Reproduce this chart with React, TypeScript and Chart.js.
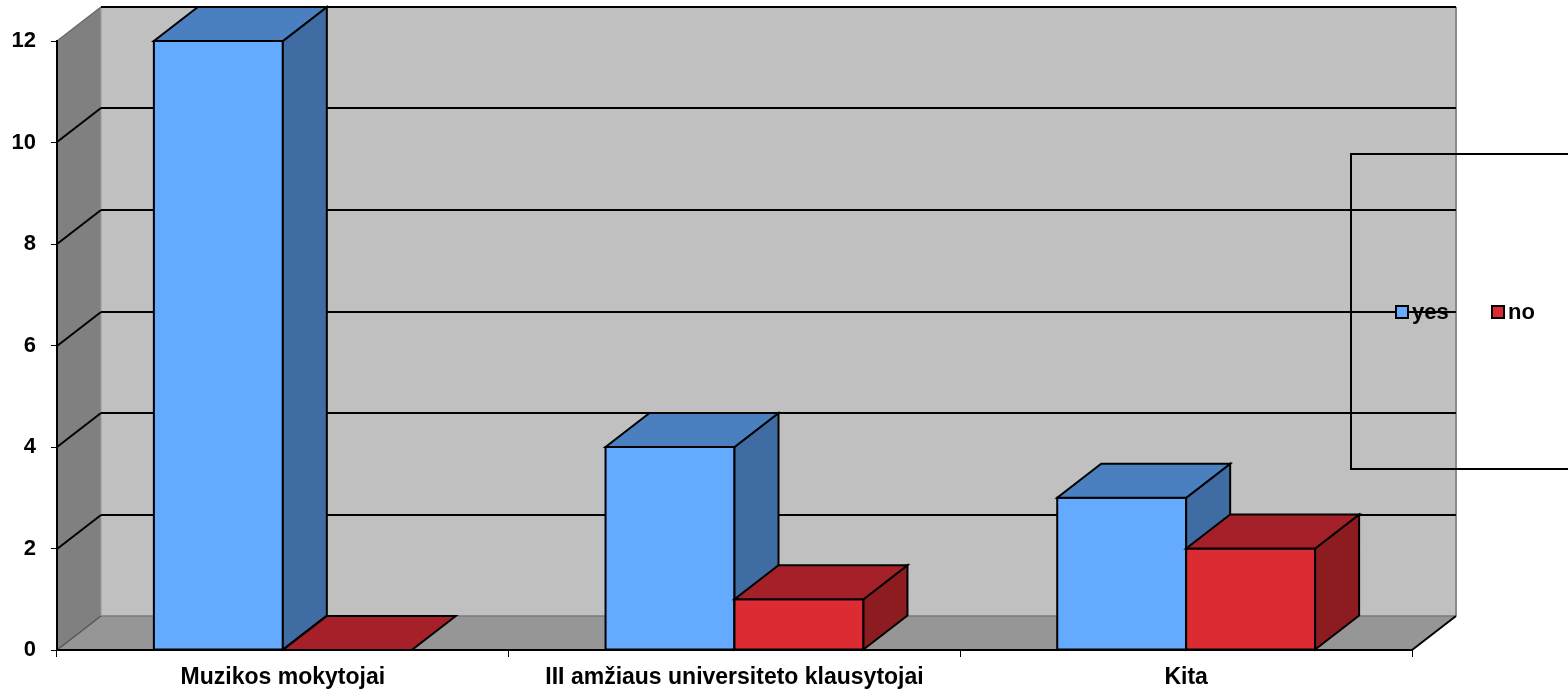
import React, { useEffect, useRef } from "react";
import { Chart, registerables } from "chart.js";

Chart.register(...registerables);

const categories = ["Muzikos mokytojai", "III amžiaus universiteto klausytojai", "Kita"];
const seriesNames = ["yes", "no"];
const yesValues = [12, 4, 3];
const noValues = [0, 1, 2];
const yMin = 0;
const yMax = 12;
const yStep = 2;

const FONT = "'Liberation Sans', Arial, sans-serif";
const DX = 44;
const DY = -34;

const faceColors = [
  { front: "#64AAFF", top: "#4A80C0", side: "#3F6CA3" },
  { front: "#DC2B32", top: "#A52028", side: "#8C1C20" },
];

function poly(ctx: CanvasRenderingContext2D, pts: number[][], fill: string | null, stroke: string | null, lw = 2) {
  ctx.beginPath();
  ctx.moveTo(pts[0][0], pts[0][1]);
  for (let i = 1; i < pts.length; i++) ctx.lineTo(pts[i][0], pts[i][1]);
  ctx.closePath();
  if (fill) {
    ctx.fillStyle = fill;
    ctx.fill();
  }
  if (stroke) {
    ctx.strokeStyle = stroke;
    ctx.lineWidth = lw;
    ctx.lineJoin = "miter";
    ctx.stroke();
  }
}

function line(ctx: CanvasRenderingContext2D, x1: number, y1: number, x2: number, y2: number, color: string, lw = 2) {
  ctx.beginPath();
  ctx.moveTo(x1, y1);
  ctx.lineTo(x2, y2);
  ctx.strokeStyle = color;
  ctx.lineWidth = lw;
  ctx.stroke();
}

const threeD = {
  id: "threeD",
  beforeDraw(chart: any) {
    const ctx = chart.ctx as CanvasRenderingContext2D;
    const { left, right, top, bottom } = chart.chartArea;
    const ys = chart.scales.y;
    ctx.save();
    // side wall
    poly(ctx, [[left, top], [left + DX, top + DY], [left + DX, bottom + DY], [left, bottom]], "#808080", null);
    // back wall
    poly(ctx, [[left + DX, top + DY], [right + DX, top + DY], [right + DX, bottom + DY], [left + DX, bottom + DY]], "#C0C0C0", null);
    // floor
    poly(ctx, [[left, bottom], [right, bottom], [right + DX, bottom + DY], [left + DX, bottom + DY]], "#969696", null);
    // soft edges
    line(ctx, left + DX, bottom + DY, right + DX, bottom + DY, "#7A7A7A", 1.5);
    line(ctx, left, bottom, left + DX, bottom + DY, "#555555", 1.5);
    line(ctx, left + DX, top + DY, left + DX, bottom + DY, "#9A9A9A", 1);
    line(ctx, right + DX, top + DY, right + DX, bottom + DY, "#8A8A8A", 2);
    line(ctx, left, top, left + DX, top + DY, "#6A6A6A", 1.5);

    // legend frame
    const lx = 1351, ly1 = 154, ly2 = 469;
    ctx.strokeStyle = "#000";
    ctx.lineWidth = 2;
    ctx.beginPath();
    ctx.moveTo(1570, ly1);
    ctx.lineTo(lx, ly1);
    ctx.lineTo(lx, ly2);
    ctx.lineTo(1570, ly2);
    ctx.stroke();

    // gridlines
    ys.ticks.forEach((t: any) => {
      if (t.value === 0) return;
      const py = Math.round(ys.getPixelForValue(t.value));
      if (t.value !== yMax) line(ctx, left, py, left + DX, py + DY, "#000", 2);
      line(ctx, left + DX, py + DY, right + DX, py + DY, "#000", 2);
    });
    // floor right edge
    line(ctx, right, bottom, right + DX, bottom + DY, "#000", 2);

    // legend items
    const items = [
      { x: 1396, tx: 1412 },
      { x: 1492, tx: 1508 },
    ];
    chart.data.datasets.forEach((ds: any, i: number) => {
      const it = items[i];
      ctx.fillStyle = faceColors[i].front;
      ctx.fillRect(it.x, 306, 12, 12);
      ctx.strokeStyle = "#000";
      ctx.lineWidth = 2;
      ctx.strokeRect(it.x, 306, 12, 12);
      ctx.fillStyle = "#000";
      ctx.font = `bold 22px ${FONT}`;
      ctx.textBaseline = "middle";
      ctx.textAlign = "left";
      ctx.fillText(ds.label, it.tx, 313);
    });
    ctx.restore();
  },
  beforeDatasetsDraw(chart: any) {
    const ctx = chart.ctx as CanvasRenderingContext2D;
    ctx.save();
    const n = chart.data.labels.length;
    for (let i = 0; i < n; i++) {
      chart.data.datasets.forEach((_ds: any, d: number) => {
        const el = chart.getDatasetMeta(d).data[i];
        if (!el) return;
        const x0 = el.x - el.width / 2;
        const x1 = el.x + el.width / 2;
        const yt = el.y;
        const yb = el.base;
        const c = faceColors[d];
        if (yb - yt > 0.5) {
          poly(ctx, [[x0, yt], [x1, yt], [x1, yb], [x0, yb]], c.front, "#000");
          poly(ctx, [[x1, yt], [x1 + DX, yt + DY], [x1 + DX, yb + DY], [x1, yb]], c.side, "#000");
        }
        poly(ctx, [[x0, yt], [x1, yt], [x1 + DX, yt + DY], [x0 + DX, yt + DY]], c.top, "#000");
      });
    }
    ctx.restore();
    return false;
  },
};

export default function App() {
  const ref = useRef<HTMLCanvasElement>(null);
  useEffect(() => {
    if (!ref.current) return;
    const chart = new Chart(ref.current, {
      type: "bar",
      data: {
        labels: categories,
        datasets: [
          { label: seriesNames[0], data: yesValues, backgroundColor: faceColors[0].front },
          { label: seriesNames[1], data: noValues, backgroundColor: faceColors[1].front },
        ],
      },
      options: {
        responsive: false,
        devicePixelRatio: 1,
        animation: false,
        layout: { padding: { left: 0, top: 41, right: 156, bottom: 0 } },
        datasets: { bar: { categoryPercentage: 0.571, barPercentage: 1 } },
        plugins: { legend: { display: false }, tooltip: { enabled: false } },
        scales: {
          x: {
            grid: { display: true, drawOnChartArea: false, drawTicks: true, tickLength: 7, color: "#000", lineWidth: 1 },
            border: { display: true, color: "#000", width: 2 },
            ticks: { color: "#000", padding: 7, maxRotation: 0, autoSkip: false, font: { family: FONT, size: 23, weight: "bold" } },
            afterFit: (s: any) => {
              s.height = 41;
              s.paddingLeft = 0;
              s.paddingRight = 0;
            },
          },
          y: {
            min: yMin,
            max: yMax,
            grid: { display: true, drawOnChartArea: false, drawTicks: true, tickLength: 6, color: "#000", lineWidth: 1 },
            border: { display: true, color: "#000", width: 2 },
            ticks: { stepSize: yStep, color: "#000", padding: 15, font: { family: FONT, size: 22, weight: "bold" } },
            afterFit: (s: any) => {
              s.width = 57;
              s.paddingTop = 0;
              s.paddingBottom = 0;
            },
          },
        },
      } as any,
      plugins: [threeD],
    });
    return () => chart.destroy();
  }, []);
  return (
    <div style={{ position: "fixed", left: 0, top: 0, width: 1568, height: 691, background: "#fff" }}>
      <canvas ref={ref} width={1568} height={691} style={{ display: "block" }} />
    </div>
  );
}
